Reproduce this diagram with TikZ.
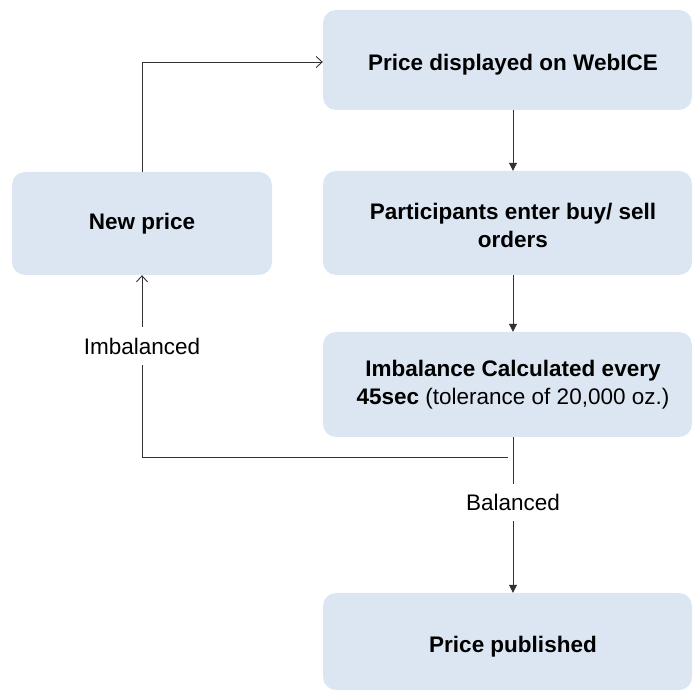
\documentclass[tikz,border=0pt]{standalone}
\usepackage{fontspec}
\setmainfont{Liberation Sans}
\usetikzlibrary{arrows.meta}
\definecolor{boxfill}{RGB}{220,230,242}
\definecolor{linec}{RGB}{50,50,50}
\tikzset{
  basebox/.style={fill=boxfill, rounded corners=13pt, inner xsep=0pt, inner ysep=0pt,
    font=\fontsize{22.5}{28}\selectfont\bfseries, align=center},
  rbox/.style={basebox, minimum width=369pt},
  lbl/.style={fill=white, inner xsep=2pt, inner ysep=10.5pt, font=\fontsize{22.5}{28}\selectfont},
  conn/.style={draw=linec, line width=0.9pt},
  tipf/.style={conn, -{Triangle[length=8pt,width=8pt]}},
  tipo/.style={conn, -{Straight Barb[length=6pt,width=11pt,line width=0.9pt]}}
}
\newcommand{\rtext}[2][0pt]{\hspace*{11pt}\raisebox{-#1}[\height][\depth]{\parbox{330pt}{\centering #2}}}
\begin{document}
\begin{tikzpicture}[x=1pt,y=1pt]
\useasboundingbox (0,0) rectangle (694,691);
\node[rbox, minimum height=100pt] (b1) at (507.5,631) {\rtext[5pt]{Price displayed on WebICE}};
\node[rbox, minimum height=104pt] (b2) at (507.5,468) {\rtext[2pt]{Participants enter buy/ sell\\orders}};
\node[rbox, minimum height=105pt] (b3) at (507.5,306.5) {\rtext{Imbalance Calculated every\\45sec \mdseries(tolerance of 20,000 oz.)}};
\node[rbox, minimum height=97pt] (b4) at (507.5,49.5) {\rtext[5pt]{Price published}};
\node[basebox, minimum width=260pt, minimum height=103pt] (np) at (142,467.5) {New price};
\coordinate (X) at (513,0);
\coordinate (split) at (508,234);
\draw[tipf] (b1.south -| X) -- (b2.north -| X);
\draw[tipf] (b2.south -| X) -- (b3.north -| X);
\draw[tipf] (b3.south -| X) -- node[lbl, pos=0.42] (bal) {Balanced} (b4.north -| X);
\draw[tipo] (split) -- (split -| np.south) -- node[lbl, pos=0.61] (imb) {Imbalanced} (np.south);
\draw[tipo] (np.north) |- ([yshift=-2pt]b1.west);
\end{tikzpicture}
\end{document}
